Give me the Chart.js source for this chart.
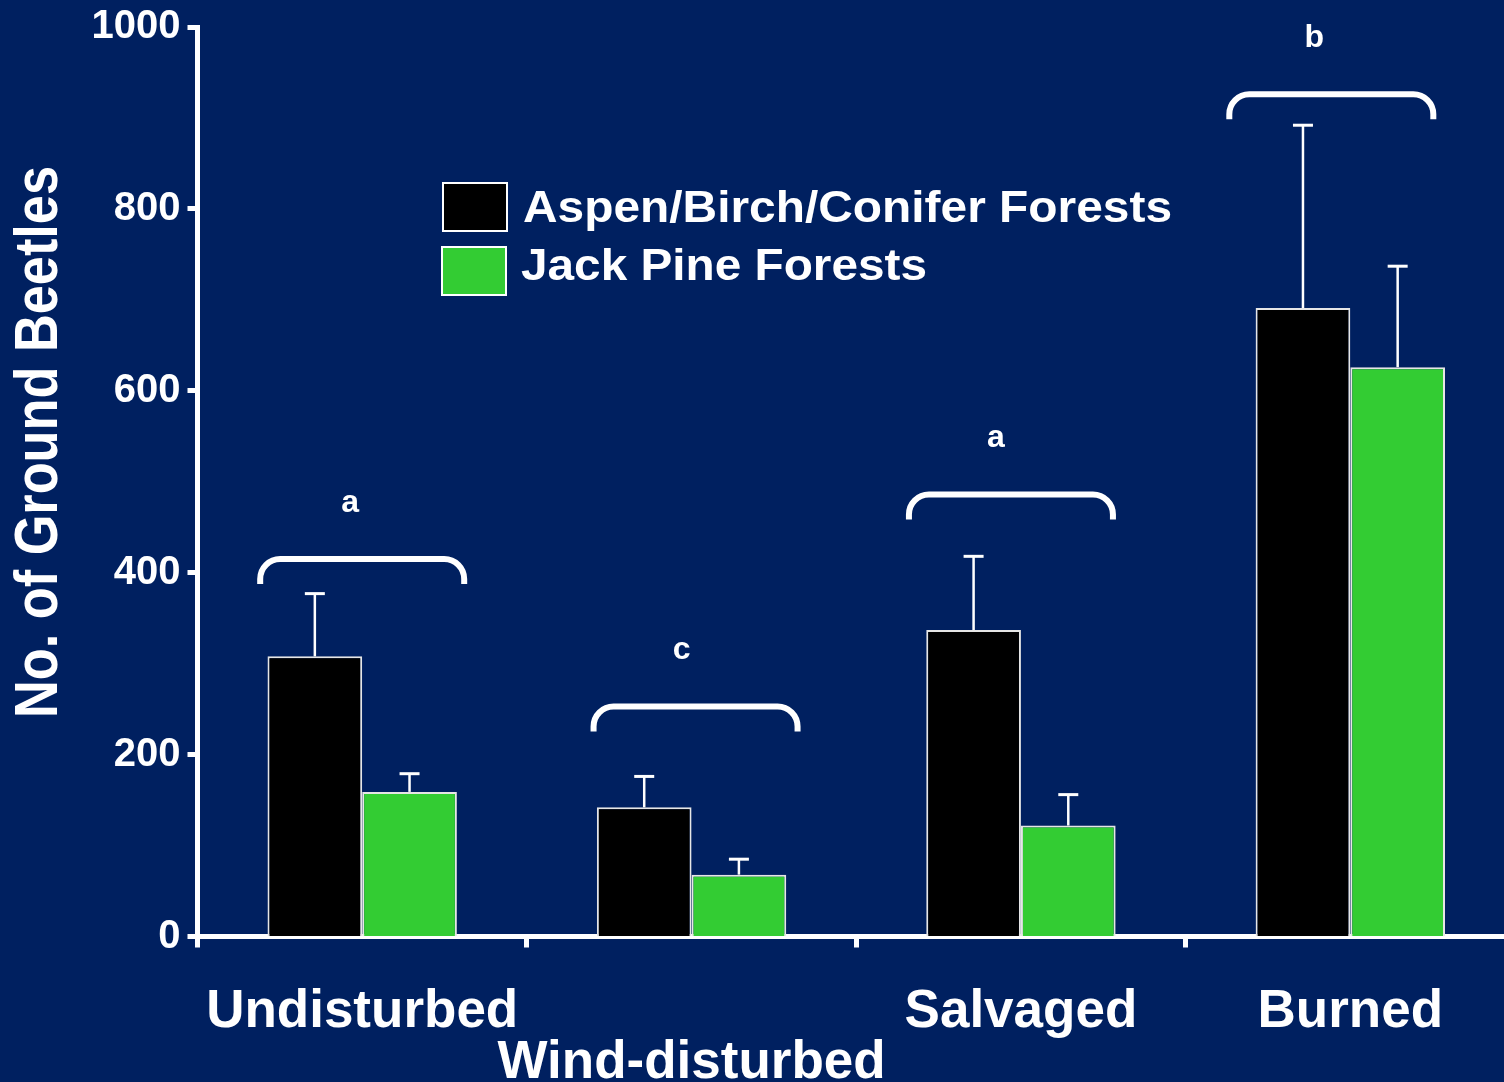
<!DOCTYPE html>
<html>
<head>
<meta charset="utf-8">
<script src="https://cdn.jsdelivr.net/npm/chart.js@4"></script>
<style>
  html, body { margin: 0; padding: 0; background: #002060; overflow: hidden; }
  #wrap { width: 1520px; height: 1082px; }
</style>
</head>
<body>
<div id="wrap"><canvas id="c" width="1520" height="1082"></canvas></div>
<script>
// ---- data ----
const categories = ['Undisturbed', 'Wind-disturbed', 'Salvaged', 'Burned'];
const seriesNames = ['Aspen/Birch/Conifer Forests', 'Jack Pine Forests'];
const aspenMeans = [308, 142, 337, 691];
const aspenErrors = [69, 34, 81, 201];
const jackPineMeans = [159, 68, 122, 626];
const jackPineErrors = [20, 17, 34, 111];
const yTicks = [0, 200, 400, 600, 800, 1000];
const groupLetters = ['a', 'c', 'a', 'b'];
const bracketLevels = [415, 253, 486, 926];
const yTitle = 'No. of Ground Beetles';

// ---- styling ----
const FONT = '"Liberation Sans", Arial, Helvetica, sans-serif';
const WHITE = '#ffffff';
const seriesColors = ['#000000', '#33cc33'];
// category labels pushed down to a second row so they do not collide
const loweredLabel = [false, true, false, false];
// horizontal nudges (px) of each bracket and its letter from the group centre
const bracketShift = [0, 4, -10, -19];
const letterShift = [-12, -10, -25, -36];
const bracketHalfWidth = 102;

function drawFitted(ctx, text, x, y, size, width, align) {
  ctx.save();
  ctx.font = 'bold ' + size + 'px ' + FONT;
  const w = ctx.measureText(text).width;
  ctx.translate(x, y);
  ctx.scale(width / w, 1);
  ctx.textAlign = align || 'left';
  ctx.fillText(text, 0, 0);
  ctx.restore();
}

const overlay = {
  id: 'overlay',
  afterDatasetsDraw(chart) {
    const ctx = chart.ctx, ys = chart.scales.y;
    ctx.save();
    ctx.strokeStyle = WHITE;
    chart.data.datasets.forEach((ds, di) => {
      const meta = chart.getDatasetMeta(di);
      meta.data.forEach((bar, i) => {
        const yTop = ys.getPixelForValue(ds.data[i] + ds.errors[i]);
        ctx.lineWidth = 2.5;
        ctx.beginPath();
        ctx.moveTo(bar.x, bar.y);
        ctx.lineTo(bar.x, yTop);
        ctx.stroke();
        ctx.lineWidth = 3;
        ctx.beginPath();
        ctx.moveTo(bar.x - 10, yTop);
        ctx.lineTo(bar.x + 10, yTop);
        ctx.stroke();
      });
    });
    ctx.restore();
  },
  afterDraw(chart) {
    const ctx = chart.ctx, xs = chart.scales.x, ys = chart.scales.y;
    ctx.save();
    // significance brackets and letters
    ctx.strokeStyle = WHITE;
    ctx.fillStyle = WHITE;
    ctx.lineWidth = 6;
    ctx.lineCap = 'butt';
    const r = 20, drop = 25;
    categories.forEach((c, i) => {
      const cx = xs.getPixelForValue(i) + bracketShift[i];
      const yb = ys.getPixelForValue(bracketLevels[i]);
      const x0 = cx - bracketHalfWidth, x1 = cx + bracketHalfWidth;
      ctx.beginPath();
      ctx.moveTo(x0, yb + drop);
      ctx.lineTo(x0, yb + r);
      ctx.arcTo(x0, yb, x0 + r, yb, r);
      ctx.lineTo(x1 - r, yb);
      ctx.arcTo(x1, yb, x1, yb + r, r);
      ctx.lineTo(x1, yb + drop);
      ctx.stroke();
      ctx.font = 'bold 32px ' + FONT;
      ctx.textAlign = 'center';
      ctx.textBaseline = 'alphabetic';
      ctx.fillText(groupLetters[i], xs.getPixelForValue(i) + letterShift[i], yb - 47);
    });

    // legend
    const boxes = [{ x: 443, y: 183 }, { x: 442, y: 247 }];
    const labelPos = [{ x: 523, y: 222, w: 649 }, { x: 521, y: 280, w: 406 }];
    chart.data.datasets.forEach((ds, di) => {
      const b = boxes[di];
      ctx.fillStyle = ds.backgroundColor;
      ctx.fillRect(b.x, b.y, 64, 48);
      ctx.lineWidth = 2;
      ctx.strokeStyle = WHITE;
      ctx.strokeRect(b.x, b.y, 64, 48);
      ctx.fillStyle = WHITE;
      ctx.textBaseline = 'alphabetic';
      drawFitted(ctx, ds.label, labelPos[di].x, labelPos[di].y, 45, labelPos[di].w, 'left');
    });

    // y-axis title
    ctx.translate(40, 442);
    ctx.rotate(-Math.PI / 2);
    ctx.fillStyle = WHITE;
    ctx.textBaseline = 'middle';
    drawFitted(ctx, yTitle, 0, 0, 61, 552, 'center');
    ctx.restore();
  }
};

new Chart(document.getElementById('c'), {
  type: 'bar',
  data: {
    labels: categories,
    datasets: [
      {
        label: seriesNames[0],
        data: aspenMeans,
        errors: aspenErrors,
        backgroundColor: seriesColors[0],
        borderColor: '#e6e6e6',
        borderWidth: 2,
        categoryPercentage: 0.575,
        barPercentage: 1.0
      },
      {
        label: seriesNames[1],
        data: jackPineMeans,
        errors: jackPineErrors,
        backgroundColor: seriesColors[1],
        borderColor: '#e6e6e6',
        borderWidth: 2,
        categoryPercentage: 0.575,
        barPercentage: 1.0
      }
    ]
  },
  options: {
    responsive: false,
    animation: false,
    devicePixelRatio: 1,
    layout: { padding: { top: 19, right: 5, left: 0, bottom: 0 } },
    plugins: { legend: { display: false }, tooltip: { enabled: false } },
    scales: {
      x: {
        grid: { offset: true, drawOnChartArea: false, drawTicks: true, tickLength: 11, tickWidth: 5, tickColor: WHITE },
        border: { display: true, color: WHITE, width: 5 },
        ticks: {
          color: WHITE,
          font: { family: FONT, size: 53, weight: 'bold', lineHeight: 0.95 },
          padding: 40,
          autoSkip: false,
          maxRotation: 0,
          minRotation: 0,
          callback: (v, i) => (loweredLabel[i] ? ['', categories[i]] : categories[i])
        },
        afterFit: s => { s.height = 145.5; }
      },
      y: {
        min: 0,
        max: 1000,
        afterBuildTicks: s => { s.ticks = yTicks.map(v => ({ value: v })); },
        grid: { drawOnChartArea: false, drawTicks: true, tickLength: 10, tickWidth: 5, tickColor: WHITE },
        border: { display: true, color: WHITE, width: 5 },
        ticks: {
          color: WHITE,
          font: { family: FONT, size: 40, weight: 'bold', lineHeight: 1.0 },
          padding: 7,
          callback: v => String(v)
        },
        afterFit: s => { s.width = 197.5; }
      }
    }
  },
  plugins: [overlay]
});
</script>
</body>
</html>
